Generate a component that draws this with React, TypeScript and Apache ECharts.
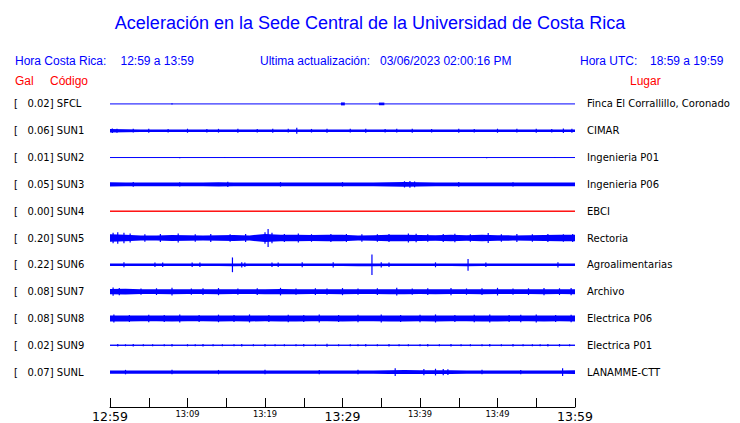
import React, { useEffect, useRef } from 'react';
import * as echarts from 'echarts';

// ---------- data ----------
const stationCodes = ['SFCL', 'SUN1', 'SUN2', 'SUN3', 'SUN4', 'SUN5', 'SUN6', 'SUN7', 'SUN8', 'SUN9', 'SUNL'];
const peakGal = [0.02, 0.06, 0.01, 0.05, 0.0, 0.2, 0.22, 0.08, 0.08, 0.02, 0.07];
const places = [
  'Finca El Corrallillo, Coronado',
  'CIMAR',
  'Ingenieria P01',
  'Ingenieria P06',
  'EBCI',
  'Rectoria',
  'Agroalimentarias',
  'Archivo',
  'Electrica P06',
  'Electrica P01',
  'LANAMME-CTT',
];
const offlineStations = ['SUN4'];
const windowMinutes = 60;
const tickLabels = ['12:59', '13:09', '13:19', '13:29', '13:39', '13:49', '13:59'];
const majorTickLabels = ['12:59', '13:29', '13:59'];

// envelope: half-amplitude (Gal) sampled evenly over the 60 min window
const envSFCL = [0, 0];
const envSUN1 = [0.04, 0.034, 0.03, 0.028, 0.03, 0.028, 0.028, 0.03, 0.028, 0.03, 0.028, 0.03, 0.03, 0.028, 0.028, 0.03, 0.028, 0.028, 0.03, 0.03, 0.028, 0.03, 0.028, 0.028, 0.03, 0.03, 0.028, 0.028, 0.03, 0.028, 0.03];
const envSUN2 = [0, 0];
const envSUN3 = [0.046, 0.044, 0.042, 0.044, 0.044, 0.042, 0.044, 0.046, 0.044, 0.044, 0.042, 0.044, 0.044, 0.044, 0.042, 0.044, 0.044, 0.044, 0.046, 0.055, 0.046, 0.044, 0.044, 0.042, 0.044, 0.044, 0.044, 0.042, 0.044, 0.044, 0.044];
const envSUN4 = [0.01, 0.01];
const envSUN5 = [0.085, 0.07, 0.058, 0.058, 0.066, 0.062, 0.058, 0.062, 0.066, 0.058, 0.09, 0.07, 0.075, 0.066, 0.07, 0.07, 0.058, 0.062, 0.07, 0.075, 0.066, 0.062, 0.075, 0.062, 0.075, 0.062, 0.058, 0.062, 0.066, 0.07, 0.07];
const envSUN6 = [0.028, 0.028, 0.028, 0.028, 0.028, 0.028, 0.028, 0.028, 0.03, 0.028, 0.028, 0.028, 0.028, 0.028, 0.028, 0.028, 0.03, 0.03, 0.028, 0.028, 0.028, 0.028, 0.028, 0.03, 0.028, 0.028, 0.028, 0.028, 0.028, 0.028, 0.028];
const envSUN7 = [0.06, 0.062, 0.052, 0.052, 0.056, 0.052, 0.052, 0.056, 0.052, 0.052, 0.056, 0.06, 0.056, 0.052, 0.052, 0.056, 0.052, 0.052, 0.056, 0.056, 0.052, 0.056, 0.052, 0.052, 0.056, 0.052, 0.052, 0.052, 0.056, 0.052, 0.056];
const envSUN8 = [0.068, 0.066, 0.064, 0.064, 0.066, 0.064, 0.064, 0.066, 0.064, 0.066, 0.064, 0.066, 0.066, 0.064, 0.064, 0.066, 0.064, 0.064, 0.066, 0.066, 0.064, 0.066, 0.064, 0.064, 0.066, 0.066, 0.064, 0.064, 0.066, 0.064, 0.066];
const envSUN9 = [0.01, 0.01];
const envSUNL = [0.038, 0.038, 0.036, 0.038, 0.038, 0.036, 0.038, 0.038, 0.038, 0.038, 0.036, 0.038, 0.038, 0.038, 0.036, 0.038, 0.038, 0.038, 0.04, 0.044, 0.04, 0.042, 0.04, 0.038, 0.038, 0.038, 0.038, 0.036, 0.038, 0.038, 0.042];

// bursts: [startMin, endMin, halfAmpGal]
const burstSFCL = [[29.8, 30.3, 0.033], [34.7, 35.4, 0.03]];
const burstNone: number[][] = [];

// spikes: [minute, halfAmpGal]
const spikeSFCL = [[8.0, 0.015]];
const spikeSUN1 = [[24.1, 0.065], [0.3, 0.05], [0.9, 0.045], [3, 0.042], [5, 0.045], [7.5, 0.04], [10, 0.045], [12.5, 0.04], [14, 0.042], [16.5, 0.045], [19, 0.04], [21, 0.045], [23, 0.042], [26, 0.04], [28, 0.045], [31, 0.042], [33, 0.045], [35.5, 0.04], [37, 0.042], [39, 0.045], [41.5, 0.04], [45, 0.045], [47, 0.04], [50, 0.045], [52.5, 0.042], [55, 0.045], [57, 0.04], [58.5, 0.05], [59.6, 0.045]];
const spikeSUN2 = [[9, 0.015], [14.8, 0.012], [24.5, 0.012], [38.7, 0.012], [48.6, 0.015], [57.4, 0.01]];
const spikeSUN3 = [[15.2, 0.06], [38.0, 0.07], [38.7, 0.075], [39.3, 0.065], [3, 0.052], [9, 0.05], [22, 0.05], [30, 0.05], [45, 0.052], [52, 0.05]];
const spikeSUN4: number[][] = [];
const spikeSUN5 = [[20.4, 0.2], [20.0, 0.13], [20.9, 0.12], [0.4, 0.12], [1, 0.13], [1.8, 0.12], [2.6, 0.1], [4.5, 0.085], [6.5, 0.09], [8.8, 0.1], [11, 0.085], [13, 0.09], [15.5, 0.085], [17.5, 0.09], [22.5, 0.09], [24.3, 0.1], [26, 0.085], [28.5, 0.09], [30.5, 0.09], [32.5, 0.085], [34.5, 0.085], [36, 0.09], [38.5, 0.1], [39.5, 0.095], [41, 0.085], [43, 0.09], [44.5, 0.095], [46.5, 0.085], [48.8, 0.11], [50.5, 0.085], [52.5, 0.09], [54.5, 0.085], [56.5, 0.09], [58.5, 0.085], [59.7, 0.09]];
const spikeSUN6 = [[15.8, 0.165], [33.8, 0.23], [46.2, 0.13], [1.8, 0.055], [5.8, 0.05], [6.8, 0.05], [10.6, 0.05], [11.6, 0.05], [17, 0.06], [17.4, 0.05], [20.9, 0.05], [21.7, 0.05], [24.8, 0.055], [28.8, 0.06], [35, 0.06], [36, 0.05], [42, 0.055], [48.5, 0.05], [57.8, 0.06]];
const spikeSUN7 = [[0.4, 0.09], [1.2, 0.08], [4, 0.07], [6, 0.075], [8, 0.085], [10.5, 0.07], [12, 0.075], [14, 0.08], [16.5, 0.07], [19, 0.075], [22, 0.085], [24, 0.07], [26.5, 0.075], [28, 0.07], [30, 0.08], [32, 0.07], [34.5, 0.075], [37, 0.085], [39, 0.07], [41, 0.075], [44, 0.08], [46, 0.07], [48, 0.075], [50, 0.085], [52, 0.07], [54, 0.075], [56, 0.08], [58, 0.075], [59.5, 0.08]];
const spikeSUN8 = [[0.5, 0.09], [2.5, 0.08], [5, 0.085], [7, 0.08], [9, 0.09], [11.5, 0.08], [14, 0.085], [16, 0.08], [18, 0.09], [20.5, 0.08], [23, 0.085], [25, 0.08], [27, 0.09], [29.5, 0.08], [32, 0.085], [35, 0.09], [37.5, 0.08], [40, 0.085], [42, 0.09], [44.5, 0.08], [47, 0.085], [49, 0.09], [51.5, 0.08], [53, 0.085], [55, 0.09], [57.5, 0.08], [59.5, 0.085]];
const spikeSUN9 = [[1, 0.026], [2, 0.022], [3, 0.028], [4.3, 0.022], [5.5, 0.024], [7, 0.022], [8, 0.026], [10, 0.024], [11, 0.022], [12, 0.028], [13.3, 0.022], [14.5, 0.024], [16, 0.022], [17, 0.026], [18.5, 0.022], [20, 0.028], [21.3, 0.022], [22.5, 0.024], [24, 0.022], [25, 0.026], [26.5, 0.022], [28, 0.032], [29.5, 0.022], [31, 0.024], [32, 0.022], [33, 0.026], [34.5, 0.022], [36, 0.028], [37.3, 0.022], [38.5, 0.024], [40, 0.022], [41, 0.026], [42.5, 0.022], [44, 0.028], [45.3, 0.022], [46.5, 0.024], [48, 0.022], [49, 0.026], [50.5, 0.022], [52, 0.028], [53.3, 0.022], [54.5, 0.024], [55.5, 0.022], [56.5, 0.026], [58, 0.028], [59.3, 0.022]];
const spikeSUNL = [[36.8, 0.085], [40.5, 0.07], [42, 0.075], [43, 0.07], [43.6, 0.065], [58.4, 0.085], [2, 0.05], [8, 0.05], [14, 0.048], [20, 0.05], [27, 0.048], [32, 0.05], [48, 0.05], [53, 0.048]];

const envelopes = [envSFCL, envSUN1, envSUN2, envSUN3, envSUN4, envSUN5, envSUN6, envSUN7, envSUN8, envSUN9, envSUNL];
const bursts = [burstSFCL, burstNone, burstNone, burstNone, burstNone, burstNone, burstNone, burstNone, burstNone, burstNone, burstNone];
const spikes = [spikeSFCL, spikeSUN1, spikeSUN2, spikeSUN3, spikeSUN4, spikeSUN5, spikeSUN6, spikeSUN7, spikeSUN8, spikeSUN9, spikeSUNL];

// Gal represented by one row of the plot
const GAL_PER_ROW = 0.6;

const BLUE = '#0000ff';
const RED = '#ff0000';

export default function App() {
  const ref = useRef<HTMLDivElement>(null);

  useEffect(() => {
    document.body.style.margin = '0';
    const chart = echarts.init(ref.current!, undefined, { renderer: 'svg' });

    const leftLabels = stationCodes.map((c, i) => `[   ${peakGal[i].toFixed(2)}] ${c}`);

    const series = stationCodes.map((code, i) => {
      const color = offlineStations.includes(code) ? RED : BLUE;
      return {
        type: 'custom',
        coordinateSystem: 'cartesian2d',
        silent: true,
        clip: false,
        data: [[0, i]],
        renderItem: (_params: any, api: any) => {
          const rowH = api.size([0, 1])[1];
          const k = rowH / GAL_PER_ROW;
          const env = envelopes[i];
          const n = env.length;
          const top: number[][] = [];
          const bot: number[][] = [];
          for (let j = 0; j < n; j++) {
            const t = (j / (n - 1)) * windowMinutes;
            const p = api.coord([t, i]);
            top.push([p[0], p[1] - env[j] * k]);
            bot.push([p[0], p[1] + env[j] * k]);
          }
          const p0 = api.coord([0, i]);
          const p1 = api.coord([windowMinutes, i]);
          const children: any[] = [
            {
              type: 'polygon',
              shape: { points: top.concat(bot.reverse()) },
              style: { fill: color },
            },
            {
              type: 'line',
              shape: { x1: p0[0], y1: p0[1], x2: p1[0], y2: p1[1] },
              style: { stroke: color, lineWidth: 1 },
            },
          ];
          bursts[i].forEach((b) => {
            const q0 = api.coord([b[0], i]);
            const q1 = api.coord([b[1], i]);
            children.push({
              type: 'rect',
              shape: { x: q0[0], y: q0[1] - b[2] * k, width: q1[0] - q0[0], height: 2 * b[2] * k },
              style: { fill: color },
            });
          });
          spikes[i].forEach((s) => {
            const p = api.coord([s[0], i]);
            children.push({
              type: 'line',
              shape: { x1: p[0], y1: p[1] - s[1] * k, x2: p[0], y2: p[1] + s[1] * k },
              style: { stroke: color, lineWidth: 1.2 },
            });
          });
          return { type: 'group', children };
        },
      };
    });

    const headerStyle = { fill: BLUE, font: '12px "Liberation Sans", Arial, sans-serif', textVerticalAlign: 'middle' };
    const redStyle = { fill: RED, font: '12px "Liberation Sans", Arial, sans-serif', textVerticalAlign: 'middle' };

    chart.setOption({
      animation: false,
      backgroundColor: '#ffffff',
      grid: { left: 110, width: 465, top: 90.5, height: 297, containLabel: false },
      xAxis: {
        type: 'value',
        min: 0,
        max: windowMinutes,
        interval: 5,
        offset: 21.5,
        axisLine: { show: true, lineStyle: { color: '#000', width: 1 } },
        axisTick: { show: true, inside: true, length: 9, lineStyle: { color: '#000', width: 1 } },
        splitLine: { show: false },
        axisLabel: {
          margin: 3,
          formatter: (v: number) => {
            if (v % 10 !== 0) return '';
            const lab = tickLabels[v / 10];
            return majorTickLabels.includes(lab) ? `{big|${lab}}` : `{small|${lab}}`;
          },
          rich: {
            big: { fontFamily: 'DejaVu Sans', fontSize: 12.5, color: '#000', lineHeight: 14, verticalAlign: 'top' },
            small: { fontFamily: 'DejaVu Sans', fontSize: 8.3, color: '#000', lineHeight: 14, verticalAlign: 'top' },
          },
        },
      },
      yAxis: [
        {
          type: 'category',
          inverse: true,
          data: leftLabels,
          position: 'left',
          axisLine: { show: false },
          axisTick: { show: false },
          splitLine: { show: false },
          axisLabel: { align: 'left', margin: 96, fontFamily: 'DejaVu Sans', fontSize: 10, color: '#000' },
        },
        {
          type: 'category',
          inverse: true,
          data: places,
          position: 'right',
          axisLine: { show: false },
          axisTick: { show: false },
          splitLine: { show: false },
          axisLabel: { align: 'left', margin: 12, fontFamily: 'DejaVu Sans', fontSize: 10, color: '#000' },
        },
      ],
      graphic: [
        {
          type: 'text',
          left: 'center',
          top: 13.5,
          style: { text: 'Aceleración en la Sede Central de la Universidad de Costa Rica', fill: BLUE, font: '18px "Liberation Sans", Arial, sans-serif' },
        },
        { type: 'text', x: 15, y: 60.5, style: { ...headerStyle, text: 'Hora Costa Rica:' } },
        { type: 'text', x: 120.5, y: 60.5, style: { ...headerStyle, text: '12:59 a 13:59' } },
        { type: 'text', x: 260, y: 60.5, style: { ...headerStyle, text: 'Ultima actualización:' } },
        { type: 'text', x: 380, y: 60.5, style: { ...headerStyle, text: '03/06/2023 02:00:16 PM' } },
        { type: 'text', x: 580, y: 60.5, style: { ...headerStyle, text: 'Hora UTC:' } },
        { type: 'text', x: 650, y: 60.5, style: { ...headerStyle, text: '18:59 a 19:59' } },
        { type: 'text', x: 15, y: 81, style: { ...redStyle, text: 'Gal' } },
        { type: 'text', x: 50, y: 81, style: { ...redStyle, text: 'Código' } },
        { type: 'text', x: 630, y: 81, style: { ...redStyle, text: 'Lugar' } },
      ],
      series,
    });

    return () => chart.dispose();
  }, []);

  return <div ref={ref} style={{ width: 740, height: 423 }} />;
}
